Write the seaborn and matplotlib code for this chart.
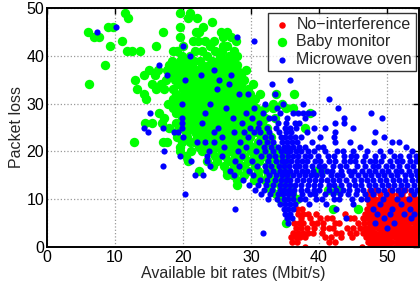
import numpy as np
import pandas as pd
import matplotlib
matplotlib.use("Agg")
import matplotlib.pyplot as plt
import seaborn as sns

# packet loss rows (y) with available bit rate values (x)
red_rows = [
    (12, [47.5, 48.4, 50.4, 51.9, 52.6]),
    (11, [47.2, 48.0, 49.0, 50.2, 50.8, 51.6, 52.2, 53.5]),
    (10, [47.0, 47.7, 48.3, 48.9, 49.5, 50.1, 50.7, 51.3, 51.9, 52.5, 53.1, 53.7, 54.3]),
    (9, [47.3, 47.9, 48.5, 49.1, 49.7, 50.3, 50.9, 51.5, 52.1, 52.7, 53.3, 53.9, 54.5]),
    (8, [36.8, 37.5, 47.0, 47.6, 48.2, 48.8, 49.4, 50.0, 50.6, 51.2, 51.8, 52.4, 53.0, 53.6, 54.2]),
    (7, [36.9, 37.6, 38.4, 39.6, 43.8, 46.8, 47.3, 47.9, 48.5, 49.1, 49.7, 50.3, 50.9, 51.5, 52.1,
         52.7, 53.3, 53.9, 54.5]),
    (6, [37.4, 38.6, 40.1, 41.2, 41.9, 44.6, 45.2, 46.5, 47.0, 47.6, 48.2, 48.8, 49.4, 50.0, 50.6,
         51.2, 51.8, 52.4, 53.0, 53.6, 54.2]),
    (5, [36.3, 37.0, 37.7, 38.9, 39.7, 40.6, 42.3, 43.0, 45.7, 46.6, 47.3, 47.9, 48.5, 49.1, 49.7,
         50.3, 50.9, 51.5, 52.1, 52.7, 53.3, 53.9, 54.5]),
    (4, [36.6, 37.4, 38.2, 39.3, 40.6, 41.4, 42.0, 44.1, 45.0, 46.0, 46.8, 47.4, 48.0, 48.6, 49.2,
         49.8, 50.4, 51.0, 51.6, 52.2, 52.8, 53.4, 54.0, 54.6]),
    (3, [36.2, 36.9, 37.6, 38.4, 39.1, 40.4, 42.5, 43.2, 44.5, 45.5, 46.4, 47.1, 47.7, 48.3, 48.9,
         49.5, 50.1, 50.7, 51.3, 51.9, 52.5, 53.1, 53.7, 54.3]),
    (2, [35.9, 36.6, 37.2, 38.0, 40.9, 41.7, 43.3, 44.8, 46.9, 47.5, 48.1, 48.7, 49.3, 49.9, 50.5,
         51.1, 51.7, 52.3, 52.9, 53.5, 54.1]),
    (1, [36.0, 36.7, 41.5, 42.3, 47.2, 47.8, 48.4, 49.0, 49.6, 50.2, 50.8, 51.4, 52.0, 52.6, 53.2,
         53.8, 54.4]),
    (0, [37.9, 46.3, 47.5, 48.1, 48.7, 49.3, 49.9, 50.5, 51.1, 51.7, 52.3, 52.9, 53.5, 54.1]),
]

green_rows = [
    (49, [11.4, 19.5, 21.1]),
    (48, [11.9, 20.8, 22.0]),
    (47, [24.2]),
    (46, [9.0, 9.7, 19.6, 23.0]),
    (45, [6.0, 17.0, 21.9, 22.4, 25.6, 26.5]),
    (44, [6.9, 7.6, 19.6, 25.9, 27.0]),
    (43, [11.1, 21.5, 22.2, 23.2, 24.6, 27.8]),
    (42, [9.2, 16.1, 20.0, 24.0, 25.9, 26.4]),
    (41, [11.7, 12.5, 13.7, 18.6, 19.1, 21.8, 22.8, 24.7, 25.7, 27.5]),
    (40, [19.8, 21.0, 23.5, 25.4, 26.8, 28.0]),
    (39, [18.4, 19.5, 20.6, 21.6, 22.5, 24.2, 25.1, 26.2, 27.0]),
    (38, [8.5, 18.0, 19.0, 20.2, 21.3, 22.8, 23.8, 25.0, 26.0, 26.9, 27.9]),
    (37, [15.0, 16.3, 17.6, 18.7, 19.8, 21.0, 22.2, 23.4, 24.5, 25.6, 26.7, 28.0, 29.3]),
    (36, [14.2, 15.9, 18.2, 19.3, 20.4, 21.6, 22.8, 24.0, 25.2, 26.3, 27.4, 28.5]),
    (35, [12.9, 17.5, 18.8, 19.9, 21.0, 22.2, 23.3, 24.4, 25.6, 26.8, 28.0, 29.0]),
    (34, [6.2, 15.5, 16.8, 19.2, 20.5, 21.6, 22.8, 24.0, 25.1, 26.2, 27.3, 28.5, 30.3]),
    (33, [13.2, 16.1, 17.2, 18.6, 20.0, 21.1, 22.3, 23.5, 24.7, 25.8, 27.0, 28.2, 29.5]),
    (32, [14.3, 19.0, 20.3, 21.6, 22.8, 24.0, 25.2, 26.4, 27.6, 28.8, 29.9, 31.3, 33.7, 36.3]),
    (31, [14.6, 18.5, 19.8, 21.0, 22.3, 23.5, 24.7, 25.9, 27.1, 28.3, 29.5, 30.6]),
    (30, [17.8, 19.2, 20.5, 21.7, 22.9, 24.1, 25.3, 26.5, 27.7, 28.9, 30.1, 33.2, 34.5]),
    (29, [18.5, 19.8, 21.1, 22.4, 23.6, 24.8, 26.0, 27.2, 28.4, 29.6, 30.8, 32.0, 33.3, 35.2, 36.2]),
    (28, [16.5, 19.0, 20.3, 21.6, 22.9, 24.1, 25.3, 26.5, 27.7, 29.0, 30.2, 31.4, 38.6]),
    (27, [17.2, 19.8, 21.0, 22.3, 23.5, 24.8, 26.0, 27.2, 28.5, 29.7, 30.9, 32.1, 33.5]),
    (26, [14.4, 15.4, 16.9, 18.9, 20.4, 21.7, 22.9, 24.2, 25.4, 26.6, 27.9, 29.1, 30.3, 31.6]),
    (25, [18.0, 19.5, 20.9, 22.2, 23.5, 24.7, 26.0, 27.3, 28.5, 29.8, 31.0, 32.3, 37.9]),
    (24, [19.0, 20.4, 21.7, 23.0, 24.3, 25.6, 26.8, 28.1, 29.3, 30.6, 31.9]),
    (23, [19.1, 20.6, 22.0, 23.4, 24.7, 26.0, 27.3, 28.6, 29.9, 31.5, 33.0]),
    (22, [12.8, 17.1, 17.6, 19.9, 21.0, 21.6, 23.0, 24.4, 25.8, 27.0, 28.3, 29.6, 31.0, 32.4]),
    (21, [19.6, 22.3, 23.6, 25.0, 26.4, 27.7, 29.0, 30.4, 31.8, 33.2]),
    (20, [19.6, 21.2, 22.8, 24.2, 25.7, 27.1, 28.5, 30.0, 31.5, 33.0, 34.3]),
    (19, [20.5, 24.7, 26.2, 27.6, 29.0, 30.5, 32.0, 33.5, 34.8]),
    (18, [20.8, 23.5, 25.0, 26.6, 28.1, 29.6, 31.2, 32.6, 34.0, 35.2]),
    (17, [24.4, 26.0, 27.5, 29.0, 30.6, 32.3, 33.8, 35.0]),
    (16, [22.3, 26.4, 27.9, 29.5, 31.0, 32.3, 33.8, 35.1, 39.7, 40.3]),
    (15, [26.4, 27.4, 29.0, 31.0, 32.5, 34.0, 35.3]),
    (14, [28.0, 30.5, 32.0, 33.5, 35.2]),
    (13, [27.9, 32.8, 34.2, 35.5]),
    (12, [33.0, 34.5, 35.8, 41.3, 42.6]),
    (11, [33.7, 34.0, 36.0]),
    (10, [34.3, 36.7]),
    (8, [42.0, 45.8]),
    (5, [35.2]),
]

blue_rows = [
    (46, [10.2]),
    (45, [7.3]),
    (44, [27.9]),
    (43, [30.5]),
    (42, [20.0]),
    (40, [21.1]),
    (38, [16.4]),
    (37, [24.6]),
    (36, [17.6, 22.6, 27.1]),
    (35, [20.3, 25.3, 35.8]),
    (34, [26.8, 33.1]),
    (33, [25.0]),
    (32, [28.2, 29.5, 33.5]),
    (31, [41.4]),
    (30, [19.9, 24.0, 32.1, 34.7, 37.6]),
    (29, [26.3, 30.5, 33.8, 42.8]),
    (28, [15.2, 23.2, 29.2, 31.8, 34.3, 36.2, 36.9, 37.6, 38.4, 39.1, 47.7]),
    (27, [19.9, 27.4, 30.1, 32.6, 33.4, 35.3, 38.0, 43.6, 49.3]),
    (26, [19.9, 22.8, 28.6, 31.2, 33.9, 35.1, 36.4, 37.1, 42.3, 43.6]),
    (25, [14.3, 17.0, 19.9, 25.2, 29.8, 31.0, 32.3, 33.6, 35.0, 35.8, 36.6, 39.2, 40.9, 45.0]),
    (24, [14.8, 18.7, 19.3, 24.5, 27.5, 29.0, 30.4, 31.3, 32.7, 34.1, 35.2, 35.9, 38.2, 42.3, 48.3]),
    (23, [20.0, 25.8, 29.6, 32.1, 33.0, 34.4, 35.0, 35.7, 36.5, 37.4, 40.1, 42.2, 49.5]),
    (22, [22.1, 23.2, 24.5, 28.4, 31.1, 32.4, 33.3, 34.6, 35.3, 36.0, 36.8, 38.9, 42.4, 44.6, 48.1,
          50.7, 51.8]),
    (21, [26.0, 29.2, 31.9, 33.0, 34.0, 34.8, 35.5, 36.2, 37.1, 38.0, 39.9, 40.6, 46.0, 52.8]),
    (20, [17.2, 23.8, 28.1, 30.7, 32.0, 33.2, 34.4, 35.1, 35.8, 36.6, 37.4, 38.4, 39.2, 40.9, 42.6,
          43.5, 45.0, 47.0, 49.0, 50.5, 53.6]),
    (19, [19.6, 23.5, 25.8, 28.7, 31.4, 32.6, 33.5, 34.6, 35.4, 36.1, 36.9, 37.9, 38.6, 39.8, 41.3,
          42.2, 43.6, 44.7, 45.5, 46.8, 48.2, 49.4, 51.0, 51.9, 53.2, 54.3]),
    (18, [21.2, 23.5, 27.6, 30.2, 32.5, 33.6, 34.5, 35.2, 35.9, 36.7, 37.5, 38.3, 39.4, 40.2, 41.5,
          42.3, 43.7, 44.5, 45.3, 46.4, 47.5, 48.3, 49.1, 50.4, 51.5, 52.2, 53.4, 54.3]),
    (17, [17.0, 24.0, 28.2, 30.9, 32.1, 33.0, 34.1, 34.9, 35.6, 36.4, 37.1, 38.0, 38.9, 40.0, 40.8,
          42.0, 43.1, 44.0, 45.6, 46.8, 47.9, 48.7, 49.9, 50.8, 51.7, 52.9, 53.8]),
    (16, [26.9, 29.7, 32.2, 33.2, 34.2, 35.0, 35.7, 36.6, 37.5, 38.3, 39.1, 40.3, 41.1, 41.9, 43.2,
          44.4, 45.2, 46.3, 47.3, 48.2, 49.2, 50.1, 51.3, 52.0, 53.2, 54.2]),
    (15, [21.8, 23.0, 27.5, 30.3, 32.7, 33.7, 34.6, 35.3, 36.1, 37.0, 37.9, 38.8, 39.6, 40.5, 41.8,
          42.6, 43.4, 44.7, 45.8, 46.7, 47.6, 48.6, 49.5, 50.6, 51.5, 52.6, 53.5, 54.4]),
    (14, [28.8, 31.3, 32.4, 33.5, 34.4, 35.1, 35.8, 36.7, 37.6, 38.5, 39.4, 40.3, 41.2, 42.1, 43.0,
          44.0, 45.1, 46.1, 47.0, 48.0, 48.9, 49.8, 50.9, 51.7, 52.7, 53.6, 54.5]),
    (13, [29.7, 31.0, 32.2, 33.3, 34.3, 35.0, 35.7, 36.5, 37.4, 38.4, 39.2, 40.1, 41.4, 42.2, 43.3,
          44.4, 45.3, 46.2, 47.3, 48.2, 49.2, 50.2, 51.0, 52.1, 53.0, 53.9]),
    (12, [30.6, 31.9, 33.1, 34.2, 34.9, 35.6, 36.3, 37.3, 38.2, 39.3, 40.0, 41.5, 42.5, 43.5, 44.4,
          45.6, 46.5, 47.6, 48.6, 49.6, 50.7, 51.6, 52.5, 53.5, 54.4]),
    (11, [20.3, 31.5, 32.8, 33.9, 34.7, 35.4, 36.1, 37.5, 38.6, 39.4, 40.9, 42.0, 43.1, 44.2, 45.5,
          46.8, 47.9, 49.9, 52.0, 53.9]),
    (10, [32.5, 33.8, 34.8, 35.5, 36.2, 37.2, 38.0, 39.6, 40.5, 42.2, 43.0, 44.8, 46.2, 47.1, 49.4,
          51.4, 53.3]),
    (9, [34.2, 35.0, 35.7, 36.4, 38.5, 41.0, 45.0, 49.0, 52.0]),
    (8, [27.6, 34.8, 35.5, 36.2, 42.5, 48.0, 50.8, 53.4]),
    (7, [35.0, 35.8, 48.5, 50.5, 52.5, 54.0]),
    (6, [35.3, 36.0, 44.0, 49.5, 53.5]),
    (5, [35.5, 48.3, 51.0]),
    (4, [50.0]),
    (3, [31.8]),
]

labels = ["No\u2212interference", "Baby monitor", "Microwave oven"]
x_ticks = [0, 10, 20, 30, 40, 50]
y_ticks = [0, 10, 20, 30, 40, 50]


def rows_to_frame(rows):
    xs, ys = [], []
    for y, xlist in rows:
        for x in xlist:
            xs.append(x)
            ys.append(y)
    return pd.DataFrame({"rate": xs, "loss": ys})


sns.set_theme(style="white")
plt.rcParams["font.family"] = ["Liberation Sans", "DejaVu Sans"]

fig = plt.figure(figsize=(4.2, 2.86), dpi=100)
ax = fig.add_axes([47 / 420, 1 - 247 / 286, 372 / 420, 239 / 286])

series = [
    (red_rows, "#ff0000", 22, labels[0]),
    (green_rows, "#00ff00", 46, labels[1]),
    (blue_rows, "#0000ff", 20, labels[2]),
]
for rows, color, size, label in series:
    sns.scatterplot(data=rows_to_frame(rows), x="rate", y="loss", color=color,
                    s=size, linewidth=0, label=label, ax=ax)

ax.set_xlim(0, 54.7)
ax.set_ylim(0, 50)
ax.set_xticks(x_ticks)
ax.set_yticks(y_ticks)
ax.set_xlabel("Available bit rates (Mbit/s)", fontsize=11.5, labelpad=1)
ax.set_ylabel("Packet loss", fontsize=11.5, labelpad=2)
ax.tick_params(direction="in", top=True, right=True, length=4, width=1,
               labelsize=11.5, pad=2, colors="black")
ax.grid(True, linestyle=":", color="#999999", linewidth=0.9)
ax.set_axisbelow(True)
for sp in ax.spines.values():
    sp.set_color("black")
    sp.set_linewidth(1.4)

leg = ax.legend(loc="upper right", bbox_to_anchor=(0.992, 0.979), borderaxespad=0,
                fontsize=11.5, frameon=True, fancybox=False, handletextpad=0.3,
                labelspacing=0.15, borderpad=0.25, handlelength=1.2)
leg.get_frame().set_edgecolor("black")
leg.get_frame().set_linewidth(1.0)

fig.savefig("out.png", dpi=100)
